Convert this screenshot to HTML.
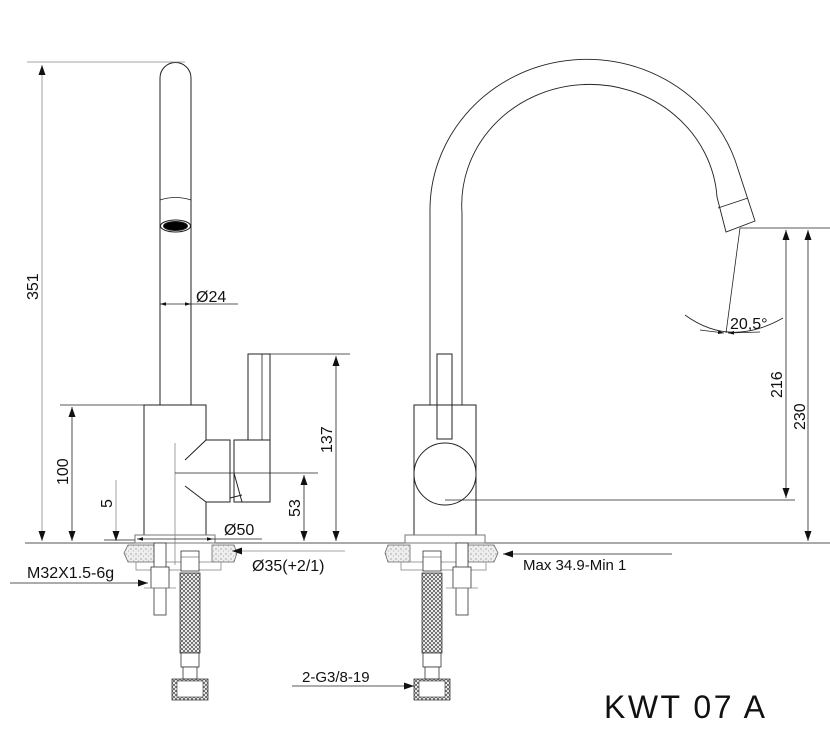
<!DOCTYPE html>
<html><head><meta charset="utf-8"><style>html,body{margin:0;padding:0;background:#fff}svg{display:block}text{font-family:"Liberation Sans",sans-serif;fill:#111}</style></head><body>
<svg width="830" height="731" viewBox="0 0 830 731" xmlns="http://www.w3.org/2000/svg">
<defs>
<marker id="a" viewBox="0 0 10 10" refX="10" refY="5" markerWidth="10" markerHeight="10" markerUnits="userSpaceOnUse" orient="auto-start-reverse"><path d="M0,1.5L10,5L0,8.5z" fill="#111"/></marker>
<marker id="s" viewBox="0 0 10 10" refX="10" refY="5" markerWidth="6" markerHeight="6" markerUnits="userSpaceOnUse" orient="auto-start-reverse"><path d="M0,2L10,5L0,8z" fill="#111"/></marker>
<pattern id="h" width="4" height="4" patternUnits="userSpaceOnUse"><rect width="4" height="4" fill="#fff"/><path d="M0,0L4,4M4,0L0,4" stroke="#444" stroke-width="0.7"/></pattern>
<pattern id="g" width="5" height="5" patternUnits="userSpaceOnUse"><rect width="5" height="5" fill="#eee"/><circle cx="1" cy="1" r="0.6" fill="#777"/><circle cx="3.5" cy="3" r="0.5" fill="#999"/></pattern>
<g id="under">
<path d="M-52,2 L-16,2 L-16,19 L-52,19 L-56,10z" fill="url(#g)" stroke="#666" stroke-width="0.8"/>
<path d="M32,2 L54,2 L57,10 L54,19 L32,19z" fill="url(#g)" stroke="#666" stroke-width="0.8"/>
<rect x="-44" y="19" width="85" height="8" fill="none" stroke="#888" stroke-width="0.8"/>
<rect x="-26" y="0" width="12" height="72" fill="#fff" stroke="#333" stroke-width="0.8"/>
<rect x="-29" y="24" width="18" height="21" fill="#fff" stroke="#333" stroke-width="0.8"/>
<line x1="-36" y1="45" x2="-4" y2="45" stroke="#888" stroke-width="0.8"/>
<rect x="1" y="8" width="18" height="20" fill="#fff" stroke="#333" stroke-width="0.8"/>
<line x1="1" y1="14" x2="19" y2="14" stroke="#333" stroke-width="0.6"/>
<rect x="0" y="30" width="20" height="80" fill="url(#h)" stroke="#333" stroke-width="0.8"/>
<rect x="1" y="110" width="18" height="14" fill="#fff" stroke="#333" stroke-width="0.8"/>
<rect x="3" y="124" width="14" height="12" fill="#fff" stroke="#333" stroke-width="0.8"/>
<path d="M-8,136 L28,136 L28,157 L-8,157z" fill="url(#h)" stroke="#333" stroke-width="0.8"/>
<rect x="-3" y="138" width="26" height="16" fill="#fff" stroke="#333" stroke-width="0.6"/>
</g>
</defs>
<g fill="none" stroke="#222" stroke-width="1">
<line x1="25" y1="543" x2="830" y2="543" stroke="#555"/>
<!-- left faucet -->
<path d="M160,405 L160,78 A15.5,15.5 0 0 1 191,78 L191,405"/>
<path d="M160,200 Q175.5,195 191,200" stroke-width="0.8"/>
<ellipse cx="175.5" cy="226" rx="15" ry="6"/>
<ellipse cx="175.5" cy="226" rx="12" ry="4.5" fill="#000"/>
<path d="M144,535 L144,405 L206,405 L206,440 L185,460 M185,486 L206,502 L206,535"/>
<path d="M206,440 L230,440 L230,502 L206,502"/>
<rect x="234" y="440" width="36" height="62"/>
<path d="M234,473 L242,502 M230,498 L242,495"/>
<rect x="248" y="354" width="22" height="86"/>
<line x1="262" y1="354" x2="262" y2="440" stroke-width="0.8"/>
<rect x="135" y="535" width="80" height="8" stroke="#777"/>
<line x1="175" y1="443" x2="175" y2="565" stroke="#888" stroke-width="0.8"/>
<line x1="175" y1="473" x2="318" y2="473" stroke-width="0.8"/>
<!-- right faucet -->
<path d="M430,405 L430,213 A157,151 0 0 1 735,160 L755,221 L726,232 L717,197 A125,118 0 0 0 462,213 L462,405" stroke-width="0.9"/>
<line x1="718" y1="208" x2="748" y2="198" stroke-width="0.9"/>
<rect x="414" y="405" width="62" height="130"/>
<rect x="437" y="354" width="15" height="85"/>
<circle cx="445" cy="474" r="31" fill="#fff"/>
<rect x="405" y="535" width="80" height="8" stroke="#777"/>
<line x1="740" y1="228" x2="726" y2="333" stroke-width="0.8"/>
<path d="M685,315 Q730,348 783,318" stroke-width="0.8"/>
</g>
<use href="#under" x="180" y="543"/>
<use href="#under" transform="translate(442,543) scale(-1,1)"/>
<g fill="none" stroke="#222" stroke-width="0.8">
<line x1="27" y1="62" x2="185" y2="62" stroke="#888"/>
<line x1="42" y1="65" x2="42" y2="541" stroke="#888" marker-start="url(#a)" marker-end="url(#a)"/>
<line x1="60" y1="405" x2="144" y2="405"/>
<line x1="72" y1="407" x2="72" y2="541" marker-start="url(#a)" marker-end="url(#a)"/>
<line x1="116" y1="480" x2="116" y2="541" stroke="#888" marker-end="url(#a)"/>
<line x1="104" y1="540" x2="135" y2="540"/>
<line x1="160" y1="304" x2="191" y2="304" marker-start="url(#s)" marker-end="url(#s)"/>
<line x1="191" y1="304" x2="238" y2="304"/>
<line x1="137" y1="539" x2="213" y2="539" marker-start="url(#s)" marker-end="url(#s)"/>
<line x1="213" y1="539" x2="262" y2="539"/>
<line x1="345" y1="551" x2="232" y2="551" stroke="#888" marker-end="url(#a)"/>
<line x1="10" y1="583" x2="148" y2="583" marker-end="url(#a)"/>
<line x1="248" y1="354" x2="350" y2="354"/>
<line x1="336" y1="356" x2="336" y2="541" marker-start="url(#a)" marker-end="url(#a)"/>
<line x1="304" y1="475" x2="304" y2="541" marker-start="url(#a)" marker-end="url(#a)"/>
<line x1="740" y1="228" x2="830" y2="228"/>
<line x1="445" y1="500" x2="795" y2="500"/>
<line x1="786" y1="230" x2="786" y2="498" marker-start="url(#a)" marker-end="url(#a)"/>
<line x1="808" y1="230" x2="808" y2="541" marker-start="url(#a)" marker-end="url(#a)"/>
<line x1="672" y1="554" x2="503" y2="554" marker-end="url(#a)"/>
<line x1="292" y1="686" x2="414" y2="686" marker-end="url(#a)"/>
<line x1="700" y1="330" x2="724" y2="333" marker-end="url(#s)"/>
<line x1="760" y1="332" x2="728" y2="333" marker-end="url(#s)"/>
</g>
<g font-size="16">
<text transform="translate(38,300) rotate(-90)">351</text>
<text transform="translate(68,485) rotate(-90)">100</text>
<text transform="translate(112,508) rotate(-90)">5</text>
<text transform="translate(332,453) rotate(-90)">137</text>
<text transform="translate(300,517) rotate(-90)">53</text>
<text transform="translate(782,398) rotate(-90)">216</text>
<text transform="translate(805,430) rotate(-90)">230</text>
<text x="196" y="302">Ø24</text>
<text x="224" y="535">Ø50</text>
<text x="252" y="571">Ø35(+2/1)</text>
<text x="27" y="578">M32X1.5-6g</text>
<text x="523" y="570" font-size="15">Max 34.9-Min 1</text>
<text x="302" y="682" font-size="15">2-G3/8-19</text>
<text x="730" y="329">20,5°</text>
<text x="604" y="718" font-size="32" style="letter-spacing:2.5px">KWT 07 A</text>
</g>
</svg>
</body></html>
